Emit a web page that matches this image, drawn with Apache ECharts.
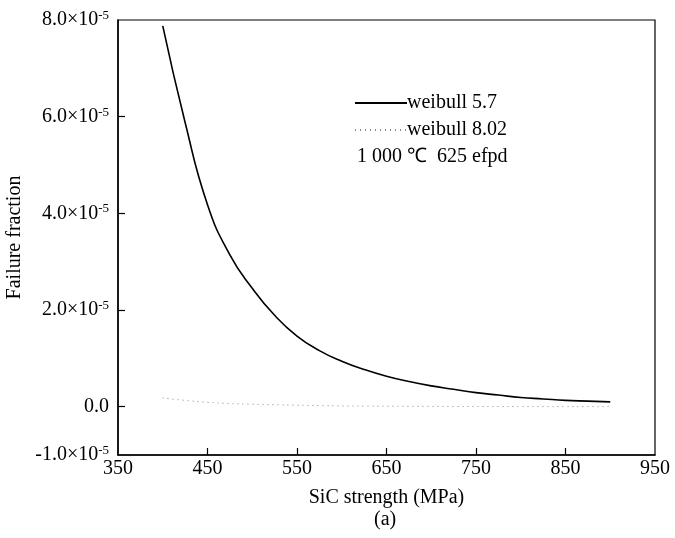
<!DOCTYPE html>
<html>
<head>
<meta charset="utf-8">
<script src="https://cdn.jsdelivr.net/npm/echarts@6/dist/echarts.min.js"></script>
<style>
  html, body { margin: 0; padding: 0; background: #fff; }
  #chart { width: 675px; height: 538px; }
</style>
</head>
<body>
<div id="chart"></div>
<script>
// SiC strength (MPa)
var strength = [400, 425, 450, 475, 500, 525, 550, 575, 600, 625, 650, 675, 700, 725, 750, 775, 800, 825, 850, 875, 900];
// failure fraction, weibull modulus 5.7
var weibull57 = [7.88e-5, 5.88e-5, 4.18e-5, 3.14e-5, 2.45e-5, 1.89e-5, 1.46e-5, 1.16e-5, 0.94e-5, 0.77e-5, 0.63e-5, 0.52e-5, 0.43e-5, 0.36e-5, 0.29e-5, 0.24e-5, 0.19e-5, 0.16e-5, 0.13e-5, 0.115e-5, 0.10e-5];
// failure fraction, weibull modulus 8.02
var weibull802 = [0.18e-5, 0.13e-5, 0.09e-5, 0.065e-5, 0.05e-5, 0.04e-5, 0.03e-5, 0.022e-5, 0.015e-5, 0.012e-5, 0.009e-5, 0.007e-5, 0.005e-5, 0.004e-5, 0.003e-5, 0.0025e-5, 0.002e-5, 0.0018e-5, 0.0015e-5, 0.0012e-5, 0.001e-5];
var xTicks = [450, 550, 650, 750, 850];
var yLabels = [-1e-5, 0, 2e-5, 4e-5, 6e-5, 8e-5];
var yTicks = [0, 2e-5, 4e-5, 6e-5];

var font = 'Liberation Serif';

function pairs(xs, ys) {
  return xs.map(function (x, i) { return [x, ys[i]]; });
}

function yFmt(v) {
  var n = Math.round(v * 1e5);
  if (n === 0) return '0.0';
  return n.toFixed(1) + '×10{sup|-5}';
}

var chart = echarts.init(document.getElementById('chart'));
chart.setOption({
  animation: false,
  backgroundColor: '#fff',
  grid: {
    left: 118, right: 20, top: 20, bottom: 83,
    outerBoundsMode: 'none',
    show: true, borderColor: '#000', borderWidth: 1.2
  },
  legend: {
    orient: 'vertical',
    left: 349, top: 88,
    itemWidth: 52, itemHeight: 14, itemGap: 7,
    textStyle: { fontFamily: font, fontSize: 20, color: '#000', padding: [0, 0, 0, -5] },
    data: ['weibull 5.7', 'weibull 8.02']
  },
  graphic: [
    {
      type: 'text', left: 357, top: 147,
      style: { text: '1 000 ℃  625 efpd', fontFamily: font, fontSize: 20, fill: '#000' }
    },
    {
      type: 'text', left: 374, top: 510,
      style: { text: '(a)', fontFamily: font, fontSize: 20, fill: '#000' }
    }
  ],
  xAxis: {
    type: 'value',
    min: 350, max: 950, interval: 100,
    name: 'SiC strength (MPa)',
    nameLocation: 'middle', nameGap: 33,
    nameTextStyle: { fontFamily: font, fontSize: 20, color: '#000' },
    axisLine: { onZero: false, lineStyle: { color: '#000', width: 1.5 } },
    axisTick: { inside: true, length: 7, customValues: xTicks, lineStyle: { color: '#000', width: 1.2 } },
    axisLabel: { fontFamily: font, fontSize: 20, color: '#000', margin: 4 },
    splitLine: { show: false }
  },
  yAxis: {
    type: 'value',
    min: -1e-5, max: 8e-5, interval: 1e-5,
    name: 'Failure fraction',
    nameLocation: 'middle', nameGap: 92,
    nameTextStyle: { fontFamily: font, fontSize: 20, color: '#000' },
    axisLine: { show: true, onZero: false, lineStyle: { color: '#000', width: 1.5 } },
    axisTick: { inside: true, length: 7, customValues: yTicks, lineStyle: { color: '#000', width: 1.2 } },
    axisLabel: {
      fontFamily: font, fontSize: 20, color: '#000', margin: 9,
      customValues: yLabels,
      formatter: yFmt,
      rich: { sup: { fontFamily: font, fontSize: 13, color: '#000', verticalAlign: 'top', padding: [0, 0, 9, 0] } }
    },
    splitLine: { show: false }
  },
  series: [
    {
      name: 'weibull 5.7', type: 'line', smooth: true, symbol: 'none',
      lineStyle: { color: '#000', width: 1.6 },
      itemStyle: { color: '#000', opacity: 0 },
      data: pairs(strength, weibull57)
    },
    {
      name: 'weibull 8.02', type: 'line', smooth: true, symbol: 'none',
      lineStyle: { color: '#888', width: 1, type: [1, 4] },
      itemStyle: { color: '#888', opacity: 0 },
      data: pairs(strength, weibull802)
    }
  ]
});
window.addEventListener('resize', function () { chart.resize(); });
</script>
</body>
</html>
